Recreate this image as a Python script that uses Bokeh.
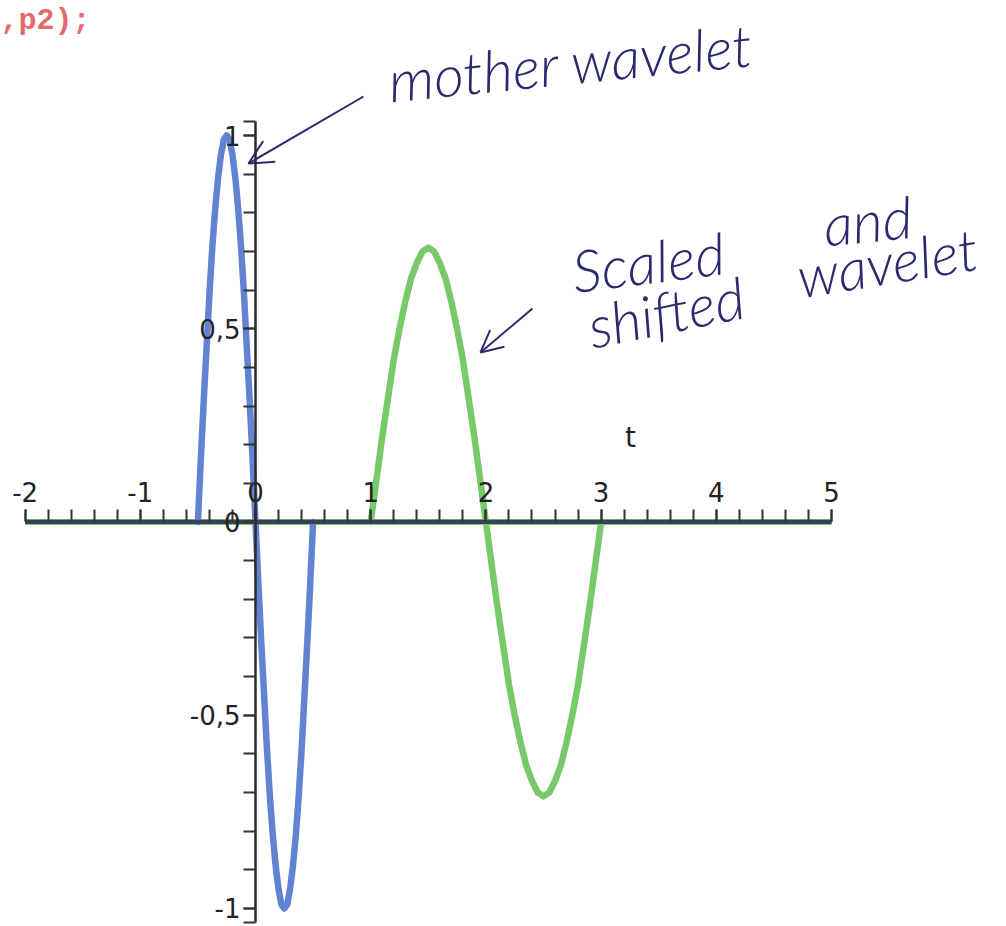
from bokeh.plotting import figure
from bokeh.models import Range1d, FixedTicker, Arrow, OpenHead
from bokeh.core.properties import value
from bokeh.embed import file_html
from bokeh.resources import INLINE

# mother wavelet (blue), sampled every 0.025 on its support [-0.5, 0.5]
blue_t = [-0.5, -0.475, -0.45, -0.425, -0.4, -0.375, -0.35, -0.325, -0.3, -0.275,
          -0.25, -0.225, -0.2, -0.175, -0.15, -0.125, -0.1, -0.075, -0.05, -0.025,
          0.0, 0.025, 0.05, 0.075, 0.1, 0.125, 0.15, 0.175, 0.2, 0.225,
          0.25, 0.275, 0.3, 0.325, 0.35, 0.375, 0.4, 0.425, 0.45, 0.475, 0.5]
blue_y = [0.00, 0.16, 0.31, 0.45, 0.59, 0.71, 0.81, 0.89, 0.95, 0.99,
          1.00, 0.99, 0.95, 0.89, 0.81, 0.71, 0.59, 0.45, 0.31, 0.16,
          0.00, -0.16, -0.31, -0.45, -0.59, -0.71, -0.81, -0.89, -0.95, -0.99,
          -1.00, -0.99, -0.95, -0.89, -0.81, -0.71, -0.59, -0.45, -0.31, -0.16, 0.00]

# scaled and shifted wavelet (green), sampled every 0.05 on its support [1, 3]
green_t = [1.0, 1.05, 1.1, 1.15, 1.2, 1.25, 1.3, 1.35, 1.4, 1.45,
           1.5, 1.55, 1.6, 1.65, 1.7, 1.75, 1.8, 1.85, 1.9, 1.95,
           2.0, 2.05, 2.1, 2.15, 2.2, 2.25, 2.3, 2.35, 2.4, 2.45,
           2.5, 2.55, 2.6, 2.65, 2.7, 2.75, 2.8, 2.85, 2.9, 2.95, 3.0]
green_y = [0.00, 0.11, 0.22, 0.32, 0.42, 0.50, 0.57, 0.63, 0.67, 0.70,
           0.71, 0.70, 0.67, 0.63, 0.57, 0.50, 0.42, 0.32, 0.22, 0.11,
           0.00, -0.11, -0.22, -0.32, -0.42, -0.50, -0.57, -0.63, -0.67, -0.70,
           -0.71, -0.70, -0.67, -0.63, -0.57, -0.50, -0.42, -0.32, -0.22, -0.11, 0.00]

# both wavelets vanish outside their supports over the plotted interval
t_span = [-2.0, 5.0]
zero_y = [0.0, 0.0]

# axis ticks and labels
x_major = [-2, -1, 0, 1, 2, 3, 4, 5]
x_minor = [round(-2 + 0.2 * i, 1) for i in range(36)]
x_labels = {-2: "-2", -1: "-1", 0: "0", 1: "1", 2: "2", 3: "3", 4: "4", 5: "5"}
y_major = [-1, -0.5, 0, 0.5, 1]
y_minor = [-1.035] + [round(-1 + 0.1 * i, 1) for i in range(21)] + [1.035]
y_labels = {-1: "-1", -0.5: "-0,5", 0: "0", 0.5: "0,5", 1: "1"}

p = figure(width=1006, height=926, output_backend="svg", toolbar_location=None,
           x_range=Range1d(-2.2135, 6.519), y_range=Range1d(-1.0466, 1.3493),
           x_axis_location="above", y_axis_location="left",
           min_border=0, background_fill_color="white")
p.outline_line_color = None
p.grid.visible = False

BLUE = "#6282d2"
GREEN = "#78c96a"
AXIS = "#3a3f5c"

# zero stretches: thin coloured fringes around the time axis
p.line(t_span, zero_y, line_color=GREEN, line_width=6, level="underlay")
p.line(blue_t, blue_y, line_color=BLUE, line_width=6.5, line_join="round",
       line_cap="round", level="underlay")
p.line(green_t, green_y, line_color=GREEN, line_width=6.5, line_join="round",
       line_cap="round", level="underlay")
# time axis line drawn over the curves
p.line(t_span, zero_y, line_color=AXIS, line_width=4)

AX_FONT = "DejaVu Sans"

xa = p.xaxis[0]
xa.fixed_location = 0
xa.bounds = (-2, 5)
xa.ticker = FixedTicker(ticks=x_major, minor_ticks=x_minor)
xa.major_label_overrides = x_labels
xa.axis_line_color = AXIS
xa.axis_line_width = 3.5
xa.major_tick_out = 12
xa.major_tick_in = 0
xa.minor_tick_out = 12
xa.minor_tick_in = 0
xa.major_tick_line_width = 2
xa.minor_tick_line_width = 2
xa.major_tick_line_color = "#333333"
xa.minor_tick_line_color = "#333333"
xa.major_label_standoff = 8
xa.major_label_text_font = AX_FONT
xa.major_label_text_font_size = "26px"
xa.major_label_text_color = "#222222"

ya = p.yaxis[0]
ya.level = "overlay"
ya.fixed_location = 0
ya.bounds = (-1.035, 1.035)
ya.ticker = FixedTicker(ticks=y_major, minor_ticks=y_minor)
ya.major_label_overrides = y_labels
ya.axis_line_color = "#2a2a2a"
ya.axis_line_width = 2.5
ya.major_tick_out = 12
ya.major_tick_in = 0
ya.minor_tick_out = 12
ya.minor_tick_in = 0
ya.major_tick_line_width = 2
ya.minor_tick_line_width = 2
ya.major_tick_line_color = "#333333"
ya.minor_tick_line_color = "#333333"
ya.major_label_standoff = 3
ya.major_label_text_font = AX_FONT
ya.major_label_text_font_size = "26px"
ya.major_label_text_color = "#222222"

# variable name next to the time axis
p.text(x=[3.255], y=[0.2186], text=["t"], text_font=value(AX_FONT),
       text_font_size="28px", text_color="#222222", text_align="center",
       text_baseline="middle")

# tail of the plotting command line
p.text(x=[-2.2135], y=[1.2975], text=[",p2);"], text_font=value("Liberation Mono"),
       text_font_size="30px", text_font_style="bold", text_color="#e36a6a",
       text_align="left", text_baseline="alphabetic")

# hand-written notes
INK = "#2b2a6e"
HAND = value("Lato Light, Lato Hairline, Lato")
notes = [
    ("mother wavelet", 1.155, 1.1435, 0.10),
    ("Scaled", 2.752, 0.650, 0.125),
    ("and", 4.931, 0.7706, 0.10),
    ("shifted", 2.891, 0.505, 0.20),
    ("wavelet", 4.705, 0.636, 0.16),
]
for txt, nx, ny, ang in notes:
    p.text(x=[nx], y=[ny], text=[txt], angle=ang, text_font=HAND,
           text_font_size="58px", text_font_style="italic", text_color=INK,
           text_align="left", text_baseline="alphabetic")

p.add_layout(Arrow(x_start=0.9375, y_start=1.1009, x_end=-0.0608, y_end=0.9276,
                   line_color=INK, line_width=2,
                   end=OpenHead(size=24, line_color=INK, line_width=2)))
p.add_layout(Arrow(x_start=2.4045, y_start=0.5524, x_end=1.953, y_end=0.4386,
                   line_color=INK, line_width=2,
                   end=OpenHead(size=22, line_color=INK, line_width=2)))

open("out.html", "w").write(file_html(p, INLINE))
